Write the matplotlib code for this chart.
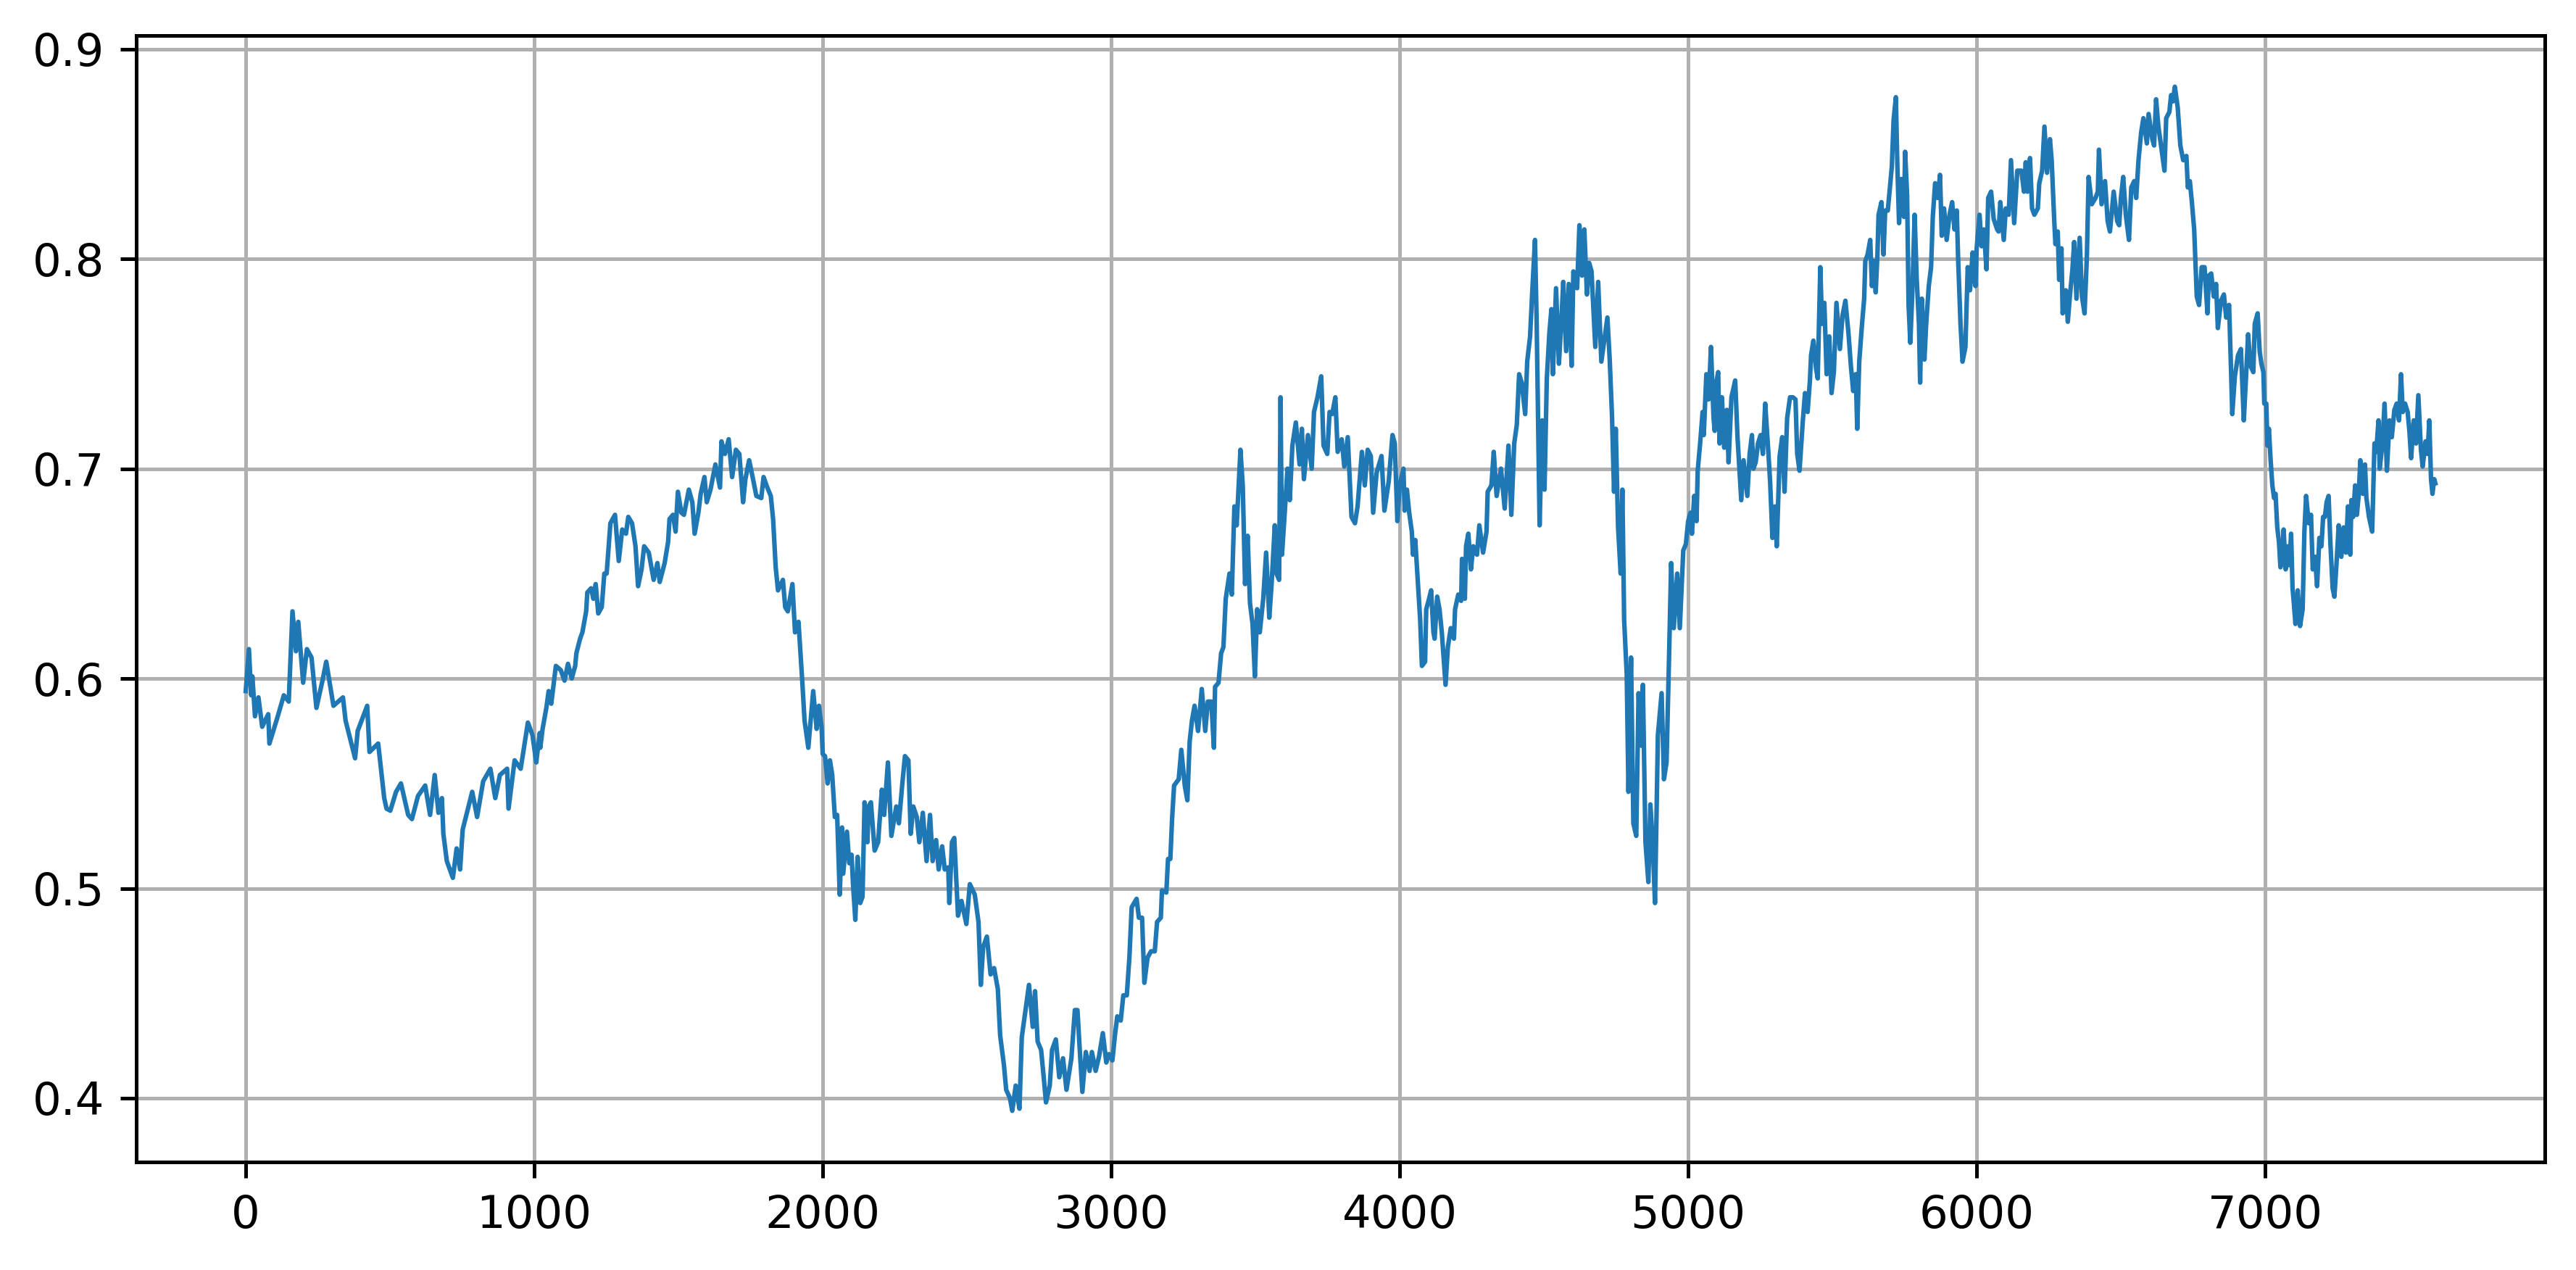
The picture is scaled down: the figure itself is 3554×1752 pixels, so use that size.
import matplotlib.pyplot as plt
import numpy as np

# values, (sample index, value)
idx_a = [0, 11, 19, 23, 32, 44, 57, 78, 82, 111, 132, 149, 162, 174, 182, 199, 212, 228, 245, 266,
         279, 304, 337, 346, 379, 388, 421, 429, 459, 480, 488, 501, 521, 538, 563, 576, 597, 622, 639, 655,
         668, 680, 685, 697, 718, 731, 743, 752, 785, 802, 823, 848, 865, 881, 906, 911, 932, 953, 978, 994,
         1007, 1019]
val_a = [0.594, 0.614, 0.592, 0.601, 0.582, 0.591, 0.577, 0.583, 0.569, 0.582, 0.592, 0.589, 0.632, 0.613, 0.627, 0.598, 0.614, 0.610, 0.586, 0.599,
         0.608, 0.587, 0.591, 0.580, 0.562, 0.575, 0.587, 0.565, 0.569, 0.543, 0.538, 0.537, 0.546, 0.550, 0.535, 0.533, 0.544, 0.549, 0.535, 0.554,
         0.536, 0.543, 0.526, 0.513, 0.505, 0.519, 0.509, 0.528, 0.546, 0.534, 0.551, 0.557, 0.543, 0.554, 0.557, 0.538, 0.561, 0.557, 0.579, 0.573,
         0.560, 0.574]

idx_b = [1021, 1029, 1042, 1050, 1059, 1075, 1092, 1105, 1117, 1130, 1142, 1146, 1159, 1167, 1180, 1184, 1197, 1205, 1213, 1222,
         1234, 1243, 1251, 1264, 1280, 1293, 1305, 1318, 1326, 1339, 1351, 1360, 1372, 1381, 1397, 1414, 1427, 1435, 1452, 1464,
         1469, 1481, 1490, 1498, 1510, 1519, 1536, 1548, 1556, 1569, 1577, 1590, 1598, 1611, 1628, 1644, 1649, 1661, 1674, 1686,
         1699, 1711, 1724, 1732, 1745, 1757, 1770, 1787, 1795, 1808, 1820, 1828, 1837, 1845, 1862, 1870, 1879, 1895, 1904, 1916,
         1929, 1937, 1950, 1967, 1979]
val_b = [0.567, 0.576, 0.586, 0.594, 0.588, 0.606, 0.604, 0.599, 0.607, 0.600, 0.606, 0.612, 0.619, 0.622, 0.632, 0.641, 0.643, 0.638, 0.645, 0.631,
         0.634, 0.650, 0.650, 0.674, 0.678, 0.656, 0.671, 0.669, 0.677, 0.674, 0.663, 0.644, 0.652, 0.663, 0.660, 0.647, 0.655, 0.646, 0.655, 0.665,
         0.676, 0.678, 0.670, 0.689, 0.679, 0.678, 0.690, 0.684, 0.669, 0.679, 0.688, 0.696, 0.684, 0.690, 0.702, 0.691, 0.713, 0.707, 0.714, 0.696,
         0.709, 0.707, 0.684, 0.695, 0.704, 0.696, 0.687, 0.686, 0.696, 0.691, 0.687, 0.676, 0.653, 0.642, 0.647, 0.634, 0.632, 0.645, 0.622, 0.627,
         0.599, 0.580, 0.567, 0.594, 0.576]

idx_c = [1987, 1996, 2000, 2008, 2017, 2025, 2033, 2042, 2050, 2059, 2067, 2071, 2084, 2092, 2100, 2105, 2113, 2121, 2130, 2138,
         2145, 2155, 2159, 2167, 2180, 2192, 2205, 2213, 2226, 2238, 2255, 2264, 2276, 2285, 2297, 2305, 2314, 2326, 2335, 2347,
         2360, 2372, 2381, 2393, 2402, 2414, 2423, 2435, 2439, 2448, 2456, 2469, 2481, 2498, 2510, 2527, 2540, 2548, 2556, 2569,
         2582, 2594, 2607, 2615, 2628, 2636, 2649, 2657, 2669, 2682, 2690, 2703, 2715, 2728, 2736, 2745, 2757, 2766, 2774, 2787,
         2795, 2808, 2820, 2833, 2845, 2862, 2874, 2883, 2891, 2900, 2912, 2925, 2933, 2946, 2958, 2971, 2983]
val_c = [0.587, 0.577, 0.564, 0.563, 0.550, 0.561, 0.554, 0.534, 0.535, 0.497, 0.529, 0.507, 0.527, 0.512, 0.516, 0.502, 0.485, 0.515, 0.493, 0.496,
         0.541, 0.522, 0.539, 0.541, 0.518, 0.522, 0.547, 0.535, 0.560, 0.525, 0.539, 0.531, 0.550, 0.563, 0.561, 0.526, 0.539, 0.534, 0.522, 0.536,
         0.513, 0.535, 0.513, 0.523, 0.509, 0.520, 0.509, 0.510, 0.493, 0.522, 0.524, 0.487, 0.494, 0.483, 0.502, 0.497, 0.484, 0.454, 0.472, 0.477,
         0.459, 0.462, 0.452, 0.430, 0.416, 0.404, 0.400, 0.394, 0.406, 0.395, 0.429, 0.442, 0.454, 0.434, 0.451, 0.427, 0.423, 0.410, 0.398, 0.406,
         0.423, 0.428, 0.410, 0.419, 0.404, 0.419, 0.442, 0.442, 0.423, 0.403, 0.422, 0.413, 0.422, 0.413, 0.420, 0.431, 0.417]

idx_d = [2992, 3004, 3013, 3021, 3033, 3042, 3054, 3063, 3071, 3088, 3096, 3107, 3115, 3126, 3138, 3151, 3159, 3172, 3176, 3191,
         3197, 3205, 3211, 3218, 3234, 3243, 3255, 3264, 3272, 3280, 3289, 3301, 3314, 3326, 3335, 3347, 3356, 3360, 3372, 3381,
         3389, 3397, 3410, 3418, 3427, 3435, 3448, 3456, 3464, 3473, 3481, 3490, 3498, 3506, 3515, 3527, 3537, 3548, 3556, 3567,
         3573, 3582, 3587, 3592, 3602, 3611, 3619, 3628, 3640, 3653, 3661, 3668, 3682, 3695, 3703, 3715, 3728, 3736, 3749, 3757,
         3766, 3777, 3785, 3799, 3808, 3820, 3833, 3845, 3854, 3869, 3879, 3889, 3900, 3908, 3920, 3937, 3947, 3962, 3975]
val_d = [0.421, 0.418, 0.430, 0.439, 0.437, 0.449, 0.449, 0.467, 0.491, 0.495, 0.486, 0.486, 0.455, 0.467, 0.470, 0.470, 0.484, 0.486, 0.499, 0.498,
         0.514, 0.514, 0.533, 0.549, 0.552, 0.566, 0.549, 0.542, 0.570, 0.580, 0.587, 0.575, 0.595, 0.575, 0.589, 0.589, 0.567, 0.596, 0.598, 0.612,
         0.615, 0.638, 0.650, 0.640, 0.682, 0.673, 0.709, 0.692, 0.645, 0.668, 0.636, 0.626, 0.601, 0.633, 0.622, 0.638, 0.660, 0.629, 0.645, 0.673,
         0.650, 0.647, 0.734, 0.659, 0.680, 0.700, 0.685, 0.711, 0.722, 0.702, 0.719, 0.695, 0.716, 0.700, 0.727, 0.734, 0.744, 0.711, 0.707, 0.727,
         0.726, 0.734, 0.708, 0.714, 0.701, 0.715, 0.677, 0.674, 0.682, 0.708, 0.692, 0.709, 0.706, 0.679, 0.698, 0.706, 0.680, 0.694, 0.716]

idx_e = [3983, 3992, 4000, 4013, 4017, 4025, 4033, 4042, 4046, 4054, 4063, 4071, 4077, 4088, 4092, 4100, 4109, 4117, 4121, 4130,
         4138, 4146, 4159, 4167, 4177, 4188, 4192, 4203, 4213, 4216, 4226, 4230, 4238, 4247, 4255, 4268, 4276, 4289, 4301, 4305,
         4318, 4326, 4336, 4351, 4364, 4377, 4387, 4397, 4406, 4414, 4423, 4435, 4442, 4452, 4459, 4469, 4475, 4485, 4494, 4502,
         4510, 4519, 4526, 4531, 4542, 4552, 4561, 4567, 4577, 4586, 4596, 4602, 4615, 4623, 4632, 4640, 4649, 4657, 4665, 4678,
         4688, 4699, 4710, 4720, 4728, 4736, 4743, 4749, 4757, 4766, 4772, 4778, 4787, 4793, 4802, 4810, 4820, 4828, 4837, 4843,
         4852, 4862, 4869, 4877, 4885, 4895, 4908, 4916, 4925, 4933, 4941, 4950, 4962, 4971, 4983]
val_e = [0.712, 0.675, 0.692, 0.700, 0.680, 0.690, 0.679, 0.670, 0.659, 0.666, 0.646, 0.628, 0.606, 0.608, 0.633, 0.637, 0.642, 0.622, 0.619, 0.639,
         0.633, 0.622, 0.597, 0.615, 0.624, 0.619, 0.633, 0.640, 0.637, 0.657, 0.638, 0.663, 0.669, 0.652, 0.663, 0.659, 0.673, 0.660, 0.670, 0.689,
         0.692, 0.708, 0.687, 0.700, 0.681, 0.711, 0.678, 0.712, 0.721, 0.745, 0.741, 0.726, 0.751, 0.763, 0.783, 0.809, 0.768, 0.673, 0.723, 0.690,
         0.743, 0.765, 0.776, 0.745, 0.786, 0.750, 0.772, 0.789, 0.756, 0.788, 0.749, 0.794, 0.786, 0.816, 0.792, 0.814, 0.783, 0.798, 0.794, 0.758,
         0.789, 0.751, 0.762, 0.772, 0.752, 0.725, 0.689, 0.719, 0.672, 0.650, 0.690, 0.628, 0.602, 0.546, 0.610, 0.531, 0.525, 0.593, 0.568, 0.597,
         0.522, 0.503, 0.540, 0.522, 0.493, 0.573, 0.593, 0.552, 0.560, 0.606, 0.655, 0.624, 0.650, 0.624, 0.661]

idx_f = [4992, 5000, 5008, 5013, 5021, 5029, 5033, 5038, 5042, 5050, 5054, 5063, 5071, 5079, 5088, 5092, 5096, 5104, 5109, 5117,
         5125, 5134, 5140, 5150, 5163, 5171, 5184, 5192, 5205, 5213, 5221, 5226, 5234, 5242, 5251, 5259, 5267, 5276, 5284, 5292,
         5301, 5307, 5317, 5326, 5334, 5343, 5353, 5363, 5372, 5378, 5386, 5397, 5405, 5414, 5422, 5426, 5434, 5443, 5449, 5458,
         5464, 5472, 5480, 5489, 5497, 5505, 5514, 5526, 5535, 5545, 5556, 5564, 5572, 5581, 5586, 5593, 5601, 5610, 5614, 5622,
         5631, 5637, 5643, 5650, 5656, 5660, 5670, 5677, 5683, 5692, 5700, 5706, 5712, 5720, 5725, 5731, 5739, 5748, 5752, 5759,
         5764, 5770, 5777, 5785, 5792, 5800, 5804, 5810, 5819, 5825, 5834, 5842, 5848, 5856, 5865, 5873, 5879, 5887, 5896, 5906,
         5915, 5923, 5931, 5936, 5944, 5951, 5961, 5969, 5977, 5986, 5992]
val_f = [0.664, 0.675, 0.679, 0.669, 0.687, 0.675, 0.699, 0.707, 0.713, 0.727, 0.716, 0.745, 0.733, 0.758, 0.724, 0.718, 0.740, 0.746, 0.712, 0.734,
         0.710, 0.728, 0.703, 0.734, 0.742, 0.715, 0.685, 0.704, 0.687, 0.707, 0.716, 0.700, 0.703, 0.712, 0.716, 0.707, 0.731, 0.712, 0.694, 0.667,
         0.682, 0.663, 0.706, 0.715, 0.689, 0.724, 0.734, 0.734, 0.733, 0.707, 0.699, 0.722, 0.736, 0.727, 0.742, 0.754, 0.761, 0.748, 0.743, 0.796,
         0.769, 0.779, 0.745, 0.763, 0.736, 0.746, 0.779, 0.757, 0.773, 0.780, 0.764, 0.749, 0.737, 0.745, 0.719, 0.751, 0.766, 0.781, 0.799, 0.802,
         0.809, 0.787, 0.799, 0.784, 0.802, 0.821, 0.827, 0.802, 0.823, 0.823, 0.835, 0.844, 0.866, 0.877, 0.845, 0.817, 0.838, 0.820, 0.851, 0.830,
         0.778, 0.760, 0.784, 0.821, 0.791, 0.769, 0.741, 0.781, 0.752, 0.769, 0.787, 0.796, 0.820, 0.836, 0.829, 0.840, 0.811, 0.824, 0.809, 0.821,
         0.827, 0.814, 0.823, 0.799, 0.769, 0.751, 0.758, 0.796, 0.785, 0.803, 0.791]

idx_g = [5996, 6000, 6010, 6017, 6025, 6034, 6040, 6050, 6059, 6071, 6076, 6082, 6094, 6101, 6111, 6119, 6130, 6141, 6155, 6164,
         6170, 6176, 6185, 6192, 6200, 6212, 6217, 6227, 6235, 6244, 6254, 6260, 6269, 6273, 6281, 6286, 6294, 6298, 6309, 6316,
         6323, 6332, 6338, 6346, 6357, 6365, 6374, 6382, 6388, 6399, 6412, 6420, 6424, 6433, 6445, 6454, 6462, 6475, 6487, 6494,
         6500, 6508, 6517, 6528, 6536, 6546, 6553, 6561, 6570, 6578, 6590, 6596, 6609, 6615, 6622, 6630, 6638, 6645, 6651, 6657,
         6668, 6674, 6680, 6687, 6697, 6706, 6716, 6727, 6732, 6739, 6746, 6754, 6763, 6771, 6780, 6790, 6800, 6805, 6813, 6822,
         6830, 6836, 6847, 6857, 6865, 6875, 6882, 6886, 6895, 6906, 6916, 6926, 6932, 6941, 6949, 6959, 6964, 6974, 6981]
val_g = [0.787, 0.805, 0.821, 0.806, 0.814, 0.795, 0.829, 0.832, 0.819, 0.814, 0.813, 0.827, 0.809, 0.824, 0.821, 0.847, 0.817, 0.842, 0.842, 0.832,
         0.846, 0.832, 0.848, 0.824, 0.821, 0.824, 0.836, 0.842, 0.863, 0.841, 0.857, 0.847, 0.818, 0.807, 0.813, 0.790, 0.805, 0.774, 0.785, 0.770,
         0.782, 0.795, 0.808, 0.781, 0.810, 0.782, 0.774, 0.801, 0.839, 0.826, 0.829, 0.832, 0.852, 0.826, 0.837, 0.818, 0.813, 0.832, 0.818, 0.816,
         0.829, 0.839, 0.821, 0.809, 0.834, 0.837, 0.829, 0.847, 0.860, 0.867, 0.855, 0.869, 0.857, 0.854, 0.876, 0.863, 0.855, 0.848, 0.842, 0.867,
         0.870, 0.878, 0.875, 0.882, 0.872, 0.854, 0.847, 0.849, 0.834, 0.837, 0.827, 0.814, 0.782, 0.778, 0.796, 0.796, 0.774, 0.792, 0.793, 0.782,
         0.788, 0.767, 0.780, 0.783, 0.772, 0.778, 0.746, 0.726, 0.744, 0.754, 0.757, 0.723, 0.739, 0.764, 0.749, 0.746, 0.769, 0.774, 0.756]

idx_h = [6987, 6994, 6997, 7004, 7008, 7013, 7019, 7021, 7025, 7031, 7036, 7042, 7048, 7053, 7059, 7064, 7071, 7078, 7084, 7090,
         7095, 7100, 7105, 7113, 7121, 7130, 7136, 7142, 7151, 7159, 7165, 7173, 7180, 7188, 7195, 7201, 7207, 7213, 7220, 7226,
         7234, 7240, 7247, 7255, 7264, 7272, 7280, 7287, 7295, 7299, 7305, 7312, 7318, 7324, 7330, 7339, 7346, 7351, 7360, 7371,
         7379, 7385, 7393, 7397, 7406, 7414, 7422, 7431, 7439, 7448, 7456, 7464, 7471, 7477, 7485, 7494, 7500, 7506, 7515, 7523,
         7531, 7540, 7546, 7556, 7563, 7569, 7575, 7580, 7586, 7590]
val_h = [0.750, 0.746, 0.731, 0.731, 0.711, 0.719, 0.704, 0.700, 0.692, 0.686, 0.688, 0.672, 0.665, 0.653, 0.656, 0.671, 0.652, 0.663, 0.654, 0.669,
         0.643, 0.635, 0.626, 0.642, 0.625, 0.633, 0.670, 0.687, 0.674, 0.678, 0.652, 0.658, 0.644, 0.667, 0.663, 0.677, 0.677, 0.684, 0.687, 0.665,
         0.643, 0.639, 0.654, 0.673, 0.658, 0.672, 0.660, 0.682, 0.659, 0.685, 0.677, 0.692, 0.678, 0.687, 0.704, 0.688, 0.702, 0.686, 0.677, 0.670,
         0.712, 0.708, 0.723, 0.700, 0.711, 0.731, 0.699, 0.723, 0.715, 0.728, 0.731, 0.723, 0.745, 0.727, 0.731, 0.727, 0.718, 0.705, 0.723, 0.712,
         0.735, 0.709, 0.701, 0.713, 0.707, 0.723, 0.695, 0.688, 0.695, 0.693]

x = np.array(idx_a + idx_b + idx_c + idx_d + idx_e + idx_f + idx_g + idx_h)
y = np.array(val_a + val_b + val_c + val_d + val_e + val_f + val_g + val_h)

fig = plt.figure(figsize=(3554 / 450, 1752 / 450), dpi=450)
ax = fig.add_axes([188 / 3554, 149 / 1752, 3323 / 3554, 1554 / 1752])
ax.plot(x, y, linewidth=1)
ax.grid(True)
fig.savefig('out.png', dpi=450)
